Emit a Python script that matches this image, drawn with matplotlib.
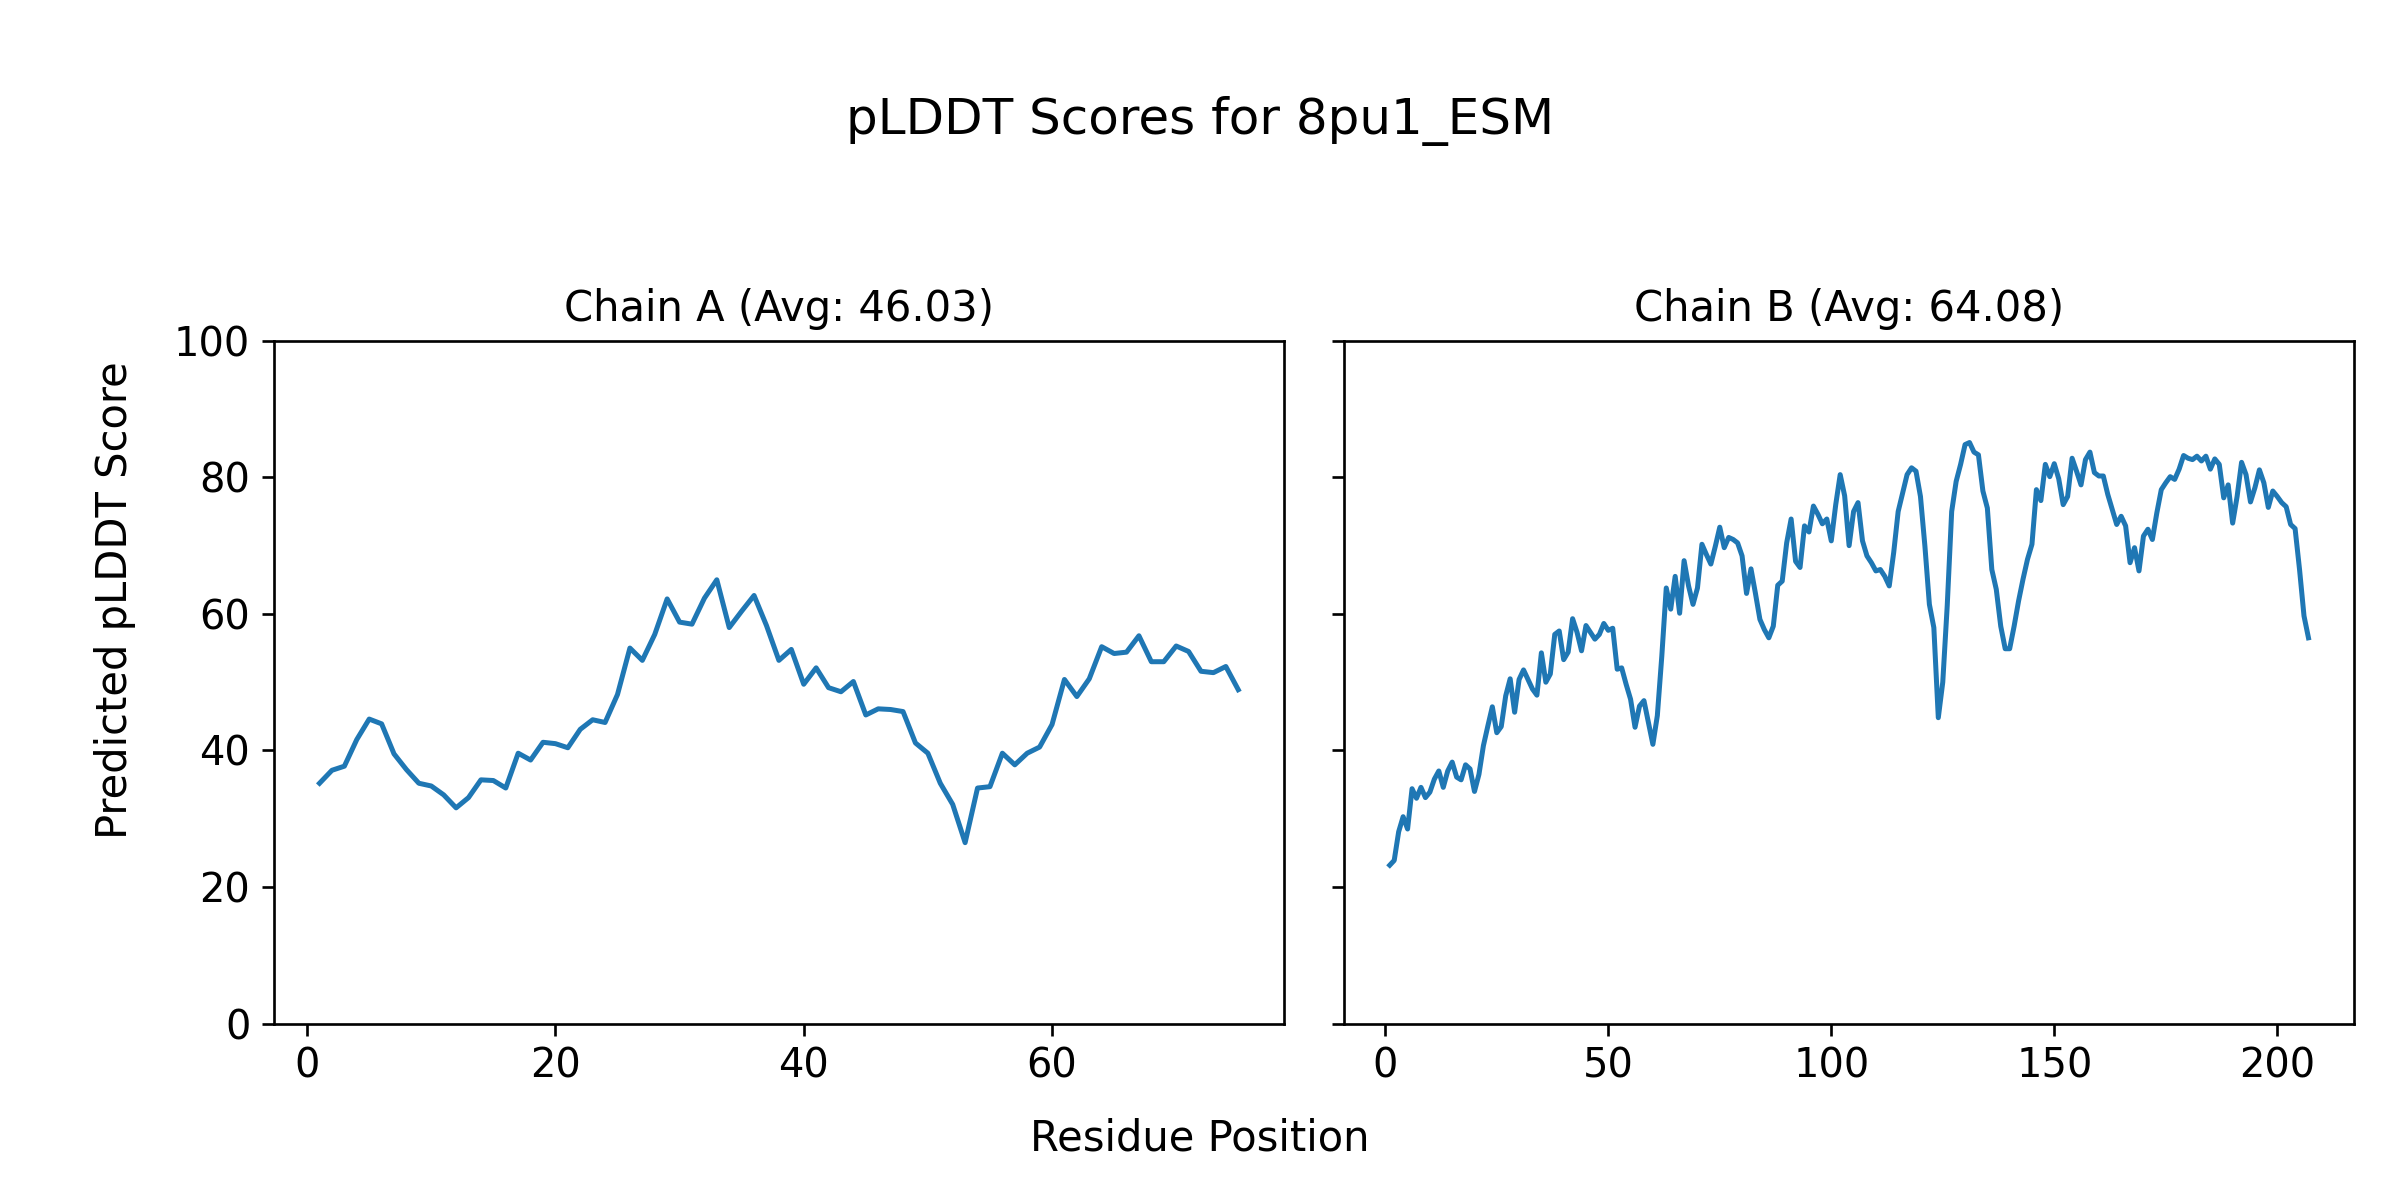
import numpy as np
import matplotlib
matplotlib.use("Agg")
import matplotlib.pyplot as plt

plt.rcParams['font.family'] = ['DejaVu Sans']
plt.rcParams['xtick.labelsize'] = 12
plt.rcParams['ytick.labelsize'] = 12

# pLDDT per residue
chain_a = [35.2, 37.1, 37.7, 41.6, 44.6, 43.9, 39.5, 37.2, 35.2, 34.8,
           33.5, 31.6, 33.1, 35.7, 35.6, 34.5, 39.6, 38.6, 41.2, 41.0,
           40.4, 43.1, 44.5, 44.1, 48.2, 55.0, 53.2, 57.0, 62.2, 58.8,
           58.5, 62.3, 65.0, 58.0, 60.4, 62.7, 58.3, 53.2, 54.8, 49.7,
           52.1, 49.2, 48.6, 50.1, 45.2, 46.1, 46.0, 45.7, 41.1, 39.6,
           35.2, 32.1, 26.5, 34.5, 34.7, 39.6, 37.9, 39.6, 40.5, 43.8,
           50.4, 47.9, 50.5, 55.2, 54.2, 54.4, 56.8, 53.0, 53.0, 55.3,
           54.5, 51.6, 51.4, 52.3, 48.9]

chain_b = [23.2, 23.9, 28.1, 30.3, 28.5, 34.4, 33.0, 34.6, 33.1, 33.9,
           35.8, 37.0, 34.6, 37.0, 38.3, 36.1, 35.7, 37.9, 37.3, 34.0,
           36.5, 40.7, 43.6, 46.4, 42.6, 43.5, 48.0, 50.5, 45.6, 50.4,
           51.8, 50.4, 49.0, 48.1, 54.3, 50.0, 51.2, 57.0, 57.5, 53.3,
           54.4, 59.3, 57.3, 54.6, 58.3, 57.3, 56.3, 57.0, 58.6, 57.6,
           57.9, 51.9, 52.1, 49.7, 47.5, 43.4, 46.5, 47.3, 44.1, 40.9,
           45.1, 53.8, 63.8, 60.7, 65.5, 60.1, 67.8, 64.1, 61.4, 63.8,
           70.2, 68.7, 67.3, 69.9, 72.7, 69.7, 71.2, 70.9, 70.4, 68.5,
           63.0, 66.6, 63.0, 59.2, 57.7, 56.5, 58.2, 64.2, 64.8, 70.4,
           73.9, 67.7, 66.8, 72.9, 72.0, 75.8, 74.6, 73.2, 73.9, 70.7,
           76.0, 80.4, 77.3, 70.0, 75.0, 76.3, 70.7, 68.5, 67.5, 66.3,
           66.5, 65.5, 64.1, 69.0, 75.0, 77.7, 80.4, 81.4, 80.9, 77.2,
           69.9, 61.4, 58.0, 44.8, 50.0, 61.2, 75.0, 79.4, 81.9, 84.8,
           85.1, 83.7, 83.3, 78.0, 75.5, 66.5, 63.6, 58.2, 54.9, 54.9,
           58.2, 61.9, 65.1, 68.0, 70.2, 78.2, 76.6, 81.9, 80.1, 82.0,
           79.8, 76.0, 77.2, 82.8, 80.9, 78.9, 82.6, 83.7, 80.7, 80.2,
           80.2, 77.5, 75.3, 73.1, 74.3, 72.9, 67.5, 69.7, 66.3, 71.4,
           72.4, 70.9, 74.8, 78.2, 79.2, 80.1, 79.7, 81.2, 83.2, 82.8,
           82.6, 83.1, 82.4, 83.1, 81.2, 82.7, 81.9, 77.0, 78.9, 73.3,
           77.2, 82.2, 80.4, 76.4, 78.5, 81.1, 79.2, 75.6, 78.0, 77.2,
           76.3, 75.7, 73.1, 72.5, 66.5, 59.7, 56.5]

chains = ['A', 'B']
avgs = [46.03, 64.08]
scores = [chain_a, chain_b]

fig, axes = plt.subplots(1, 2, figsize=(10, 5), dpi=240, sharey=True)
for ax, name, avg, s in zip(axes, chains, avgs, scores):
    pos = np.arange(1, len(s) + 1)
    ax.plot(pos, s, color='#1f77b4', linewidth=1.5)
    ax.set_title(f"Chain {name} (Avg: {avg:.2f})", fontsize=12.5)
    ax.set_ylim(0, 100)

fig.suptitle("pLDDT Scores for 8pu1_ESM", fontsize=15, y=0.92)
fig.supxlabel("Residue Position", fontsize=12.5, y=0.034)
fig.supylabel("Predicted pLDDT Score", fontsize=12.5, x=0.039)
plt.subplots_adjust(left=0.114, right=0.981, top=0.716, bottom=0.147, wspace=0.059)
plt.savefig('out.png')
